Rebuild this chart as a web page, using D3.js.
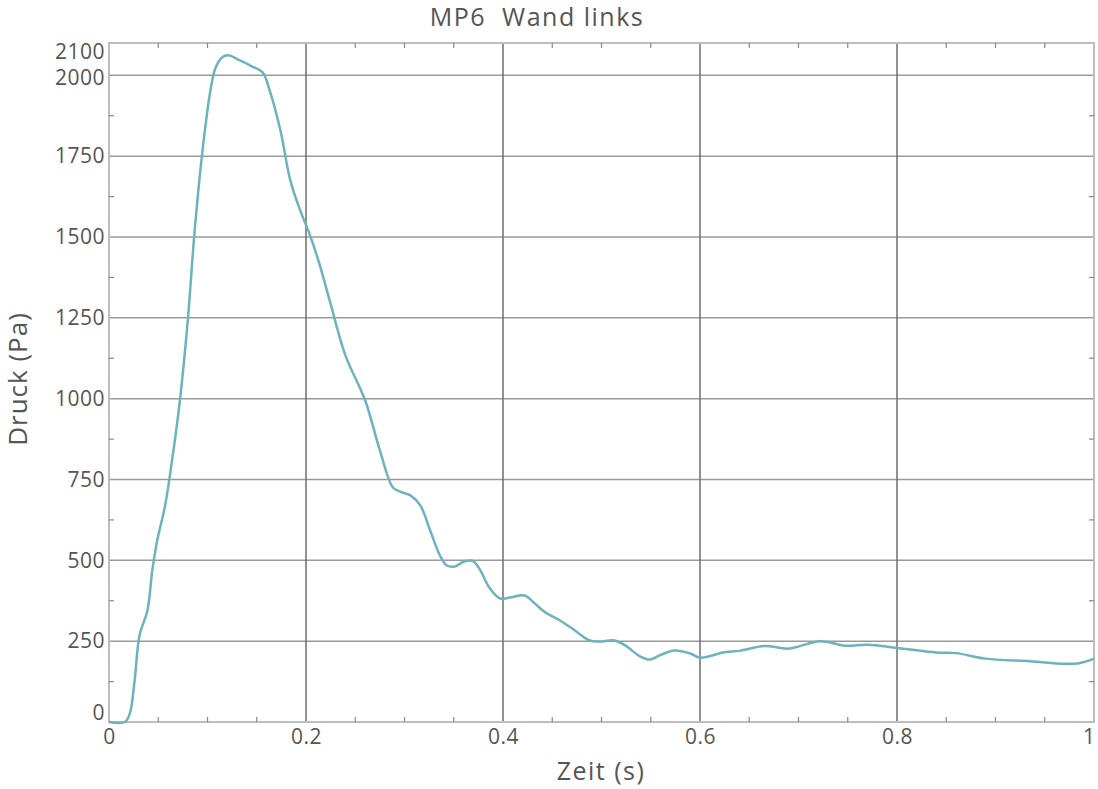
<!DOCTYPE html>
<html>
<head>
<meta charset="utf-8">
<script src="https://cdn.jsdelivr.net/npm/d3@7"></script>
<style>
  body { margin: 0; background: #fff; }
  text { font-family: "Open Sans", "Noto Sans", sans-serif; fill: #555; }
</style>
</head>
<body>
<script>
// time (s) and pressure (Pa)
const zeit = [0, 0.016, 0.021, 0.026, 0.031, 0.039, 0.044, 0.049, 0.057, 0.064, 0.072, 0.080, 0.087, 0.095,
  0.103, 0.108, 0.115, 0.121, 0.133, 0.145, 0.156, 0.163, 0.174, 0.184, 0.194, 0.204, 0.214, 0.224, 0.24,
  0.26, 0.275, 0.288, 0.295, 0.306, 0.316, 0.326, 0.336, 0.343, 0.351, 0.361, 0.370, 0.377, 0.386, 0.397,
  0.407, 0.422, 0.432, 0.443, 0.458, 0.473, 0.488, 0.498, 0.513, 0.524, 0.539, 0.549, 0.559, 0.574, 0.590,
  0.6, 0.625, 0.64, 0.666, 0.69, 0.722, 0.747, 0.77, 0.798, 0.84, 0.86, 0.89, 0.935, 0.97, 0.985, 1.0];
const druck = [0, 0, 25, 128, 268, 345, 470, 562, 670, 809, 995, 1243, 1521, 1769,
  1954, 2022, 2056, 2062, 2046, 2028, 2009, 1954, 1830, 1676, 1583, 1506, 1413, 1304, 1134,
  995, 840, 726, 713, 701, 670, 593, 515, 484, 481, 497, 497, 469, 416, 382,
  385, 391, 367, 339, 314, 283, 252, 249, 252, 237, 203, 193, 206, 221, 212,
  199, 216, 220, 235, 227, 250, 236, 239, 230, 215, 213, 196, 188, 180, 182, 196];

const xTicks = [0, 0.2, 0.4, 0.6, 0.8, 1];
const yTicks = [0, 250, 500, 750, 1000, 1250, 1500, 1750, 2000, 2100];
const xMinor = d3.range(0.05, 1, 0.05).filter(v => Math.abs(v * 5 - Math.round(v * 5)) > 0.01);
const yMinor = d3.range(125, 2100, 250);

const margin = {top: 43, right: 4, bottom: 67, left: 109},
    width = 1098 - margin.left - margin.right,
    height = 789 - margin.top - margin.bottom;

const svg = d3.select("body")
  .append("svg")
    .attr("width", 1098)
    .attr("height", 789);

const g = svg.append("g")
    .attr("transform", `translate(${margin.left}, ${margin.top})`);

const x = d3.scaleLinear().domain([0, 1]).range([0, width]);
const y = d3.scaleLinear().domain([0, 2100]).range([height, 0]);

// grid
g.selectAll(".hgrid")
  .data(yTicks.filter(d => d > 0 && d < 2100))
  .enter().append("line")
    .attr("x1", 0).attr("x2", width)
    .attr("y1", d => y(d)).attr("y2", d => y(d))
    .attr("stroke", "#9a9a9a").attr("stroke-width", 1.5);

g.selectAll(".vgrid")
  .data(xTicks.filter(d => d > 0 && d < 1))
  .enter().append("line")
    .attr("x1", d => x(d)).attr("x2", d => x(d))
    .attr("y1", 0).attr("y2", height)
    .attr("stroke", "#6e6e6e").attr("stroke-width", 1.5);

// frame
g.append("rect")
    .attr("width", width).attr("height", height)
    .attr("fill", "none").attr("stroke", "#bdbdbd").attr("stroke-width", 2);

// minor ticks, inward
[0, height].forEach(function(yy) {
  g.selectAll(null).data(xMinor).enter().append("line")
    .attr("x1", d => x(d)).attr("x2", d => x(d))
    .attr("y1", yy).attr("y2", yy === 0 ? 5 : yy - 5)
    .attr("stroke", "#888").attr("stroke-width", 1.2);
});
[0, width].forEach(function(xx) {
  g.selectAll(null).data(yMinor).enter().append("line")
    .attr("y1", d => y(d)).attr("y2", d => y(d))
    .attr("x1", xx).attr("x2", xx === 0 ? 5 : xx - 5)
    .attr("stroke", "#888").attr("stroke-width", 1.2);
});

// axes (labels only)
const xAxis = g.append("g")
    .attr("transform", `translate(0, ${height})`)
    .call(d3.axisBottom(x).tickValues(xTicks).tickFormat(d3.format("")).tickSize(0).tickPadding(7));
const yAxis = g.append("g")
    .call(d3.axisLeft(y).tickValues(yTicks).tickFormat(d3.format("d")).tickSize(0).tickPadding(4));
[xAxis, yAxis].forEach(function(a) {
  a.select(".domain").remove();
  a.selectAll("text").style("font-size", "21px").style("letter-spacing", "0.5px").attr("fill", "#555");
});
yAxis.selectAll("text").filter(d => d === 0).attr("dy", "-0.1em");
yAxis.selectAll("text").filter(d => d === 2100).attr("dy", "0.72em");
yAxis.selectAll("text").filter(d => d === 2000).attr("dy", "0.42em");
xAxis.selectAll("text").filter(d => d === 1).attr("text-anchor", "end").attr("dx", "0.05em");

// the curve
const line = d3.line()
    .x((d, i) => x(zeit[i]))
    .y(d => y(d))
    .curve(d3.curveCatmullRom.alpha(0.5));

g.append("path")
    .datum(druck)
    .attr("d", line)
    .attr("fill", "none")
    .attr("stroke", "#6db3be")
    .attr("stroke-width", 2.5);

// titles
svg.append("text")
    .attr("x", 537).attr("y", 26)
    .attr("text-anchor", "middle")
    .style("font-size", "25px")
    .style("letter-spacing", "1.5px")
    .attr("fill", "#444")
    .text("MP6\u00a0 Wand links");

svg.append("text")
    .attr("x", 601).attr("y", 780)
    .attr("text-anchor", "middle")
    .style("font-size", "25px")
    .style("letter-spacing", "1.5px")
    .attr("fill", "#444")
    .text("Zeit (s)");

svg.append("text")
    .attr("transform", "translate(27, 379) rotate(-90)")
    .attr("text-anchor", "middle")
    .style("font-size", "26px")
    .style("letter-spacing", "1px")
    .attr("fill", "#444")
    .text("Druck (Pa)");
</script>
</body>
</html>
